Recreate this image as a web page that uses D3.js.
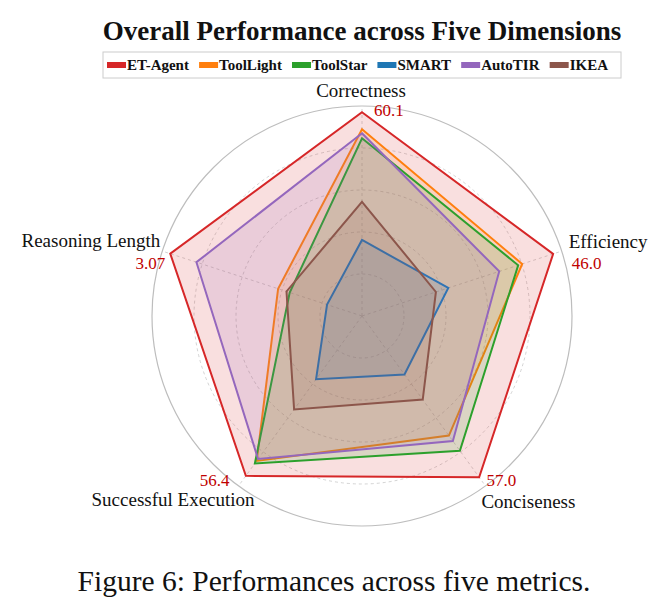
<!DOCTYPE html>
<html>
<head>
<meta charset="utf-8">
<script src="https://cdn.jsdelivr.net/npm/d3@7"></script>
<style>
  body { margin: 0; background: #fff; }
  text { font-family: "Liberation Serif", "Times New Roman", serif; }
</style>
</head>
<body>
<div id="chart"></div>
<script>
// axes of the radar, clockwise from the top
var axes = ["Correctness", "Efficiency", "Conciseness", "Successful Execution", "Reasoning Length"];
// best raw value on each axis (printed in red)
var axisMax = ["60.1", "46.0", "57.0", "56.4", "3.07"];

var models = ["ET-Agent", "ToolLight", "ToolStar", "SMART", "AutoTIR", "IKEA"];
var colors = ["#d62728", "#ff7f0e", "#2ca02c", "#1f77b4", "#9467bd", "#8c564b"];

// normalized scores (0..1) per axis, same order as axes
var etAgent   = [0.97, 0.957, 0.949, 0.941, 0.96];
var toolLight = [0.889, 0.802, 0.704, 0.853, 0.42];
var toolStar  = [0.846, 0.782, 0.793, 0.868, 0.362];
var smart     = [0.362, 0.432, 0.344, 0.372, 0.175];
var autoTir   = [0.870, 0.687, 0.736, 0.842, 0.829];
var ikea      = [0.544, 0.37, 0.492, 0.55, 0.378];

var series = [etAgent, toolLight, toolStar, smart, autoTir, ikea];
var rings = [0.2, 0.4, 0.6, 0.8, 1.0];

var width = 668, height = 613;
var cx = 362, cy = 316, R = 210;

var svg = d3.select("#chart").append("svg")
	.attr("width", width)
	.attr("height", height);

var r = d3.scaleLinear().domain([0, 1]).range([0, R]);
var angle = d3.scaleLinear().domain([0, axes.length]).range([0, 2 * Math.PI]);

var g = svg.append("g").attr("transform", "translate(" + cx + "," + cy + ")");

// grid rings
g.selectAll(".ring")
	.data(rings)
	.enter().append("circle")
	.attr("class", "ring")
	.attr("r", function(d) { return r(d); })
	.attr("fill", "none")
	.attr("stroke", function(d) { return d === 1 ? "#bdbdbd" : "#c8c8c8"; })
	.attr("stroke-width", function(d) { return d === 1 ? 1.2 : 0.8; })
	.attr("stroke-dasharray", function(d) { return d === 1 ? null : "3,3"; });

// spokes
g.selectAll(".spoke")
	.data(axes)
	.enter().append("line")
	.attr("class", "spoke")
	.attr("x1", 0).attr("y1", 0)
	.attr("x2", function(d, i) { return r(1) * Math.sin(angle(i)); })
	.attr("y2", function(d, i) { return -r(1) * Math.cos(angle(i)); })
	.attr("stroke", "#c8c8c8")
	.attr("stroke-width", 0.8)
	.attr("stroke-dasharray", "3,3");

var radar = d3.lineRadial()
	.angle(function(d, i) { return angle(i); })
	.radius(function(d) { return r(d); })
	.curve(d3.curveLinearClosed);

var shapes = g.selectAll(".model")
	.data(series)
	.enter().append("g")
	.attr("class", "model");

shapes.append("path")
	.attr("d", radar)
	.attr("fill", function(d, i) { return colors[i]; })
	.attr("fill-opacity", 0.15)
	.attr("stroke", "none");

shapes.append("path")
	.attr("d", radar)
	.attr("fill", "none")
	.attr("stroke", function(d, i) { return colors[i]; })
	.attr("stroke-width", 2)
	.attr("stroke-linejoin", "miter");

// axis label placement relative to the end of each spoke
var labelPos = [
	{ dx: -1, dy: -9, anchor: "middle" },
	{ dx: 7, dy: -3, anchor: "start" },
	{ dx: -4, dy: 22, anchor: "start" },
	{ dx: 16, dy: 20, anchor: "end" },
	{ dx: -2, dy: -4, anchor: "end" }
];
var valuePos = [
	{ dx: 12, dy: 10, anchor: "start" },
	{ dx: 10, dy: 18, anchor: "start" },
	{ dx: 1, dy: 0, anchor: "start" },
	{ dx: -9, dy: 0, anchor: "end" },
	{ dx: 3, dy: 18, anchor: "end" }
];

function endX(i) { return r(1) * Math.sin(angle(i)); }
function endY(i) { return -r(1) * Math.cos(angle(i)); }

g.selectAll(".axis-label")
	.data(axes)
	.enter().append("text")
	.attr("class", "axis-label")
	.attr("x", function(d, i) { return endX(i) + labelPos[i].dx; })
	.attr("y", function(d, i) { return endY(i) + labelPos[i].dy; })
	.attr("text-anchor", function(d, i) { return labelPos[i].anchor; })
	.attr("font-size", 19)
	.attr("fill", "#111")
	.text(function(d) { return d; });

g.selectAll(".axis-max")
	.data(axisMax)
	.enter().append("text")
	.attr("class", "axis-max")
	.attr("x", function(d, i) { return endX(i) + valuePos[i].dx; })
	.attr("y", function(d, i) { return endY(i) + valuePos[i].dy; })
	.attr("text-anchor", function(d, i) { return valuePos[i].anchor; })
	.attr("font-size", 17)
	.attr("fill", "#c00000")
	.text(function(d) { return d; });

// title
svg.append("text")
	.attr("x", 362)
	.attr("y", 40)
	.attr("text-anchor", "middle")
	.attr("font-size", 27)
	.attr("font-weight", "bold")
	.attr("fill", "#111")
	.text("Overall Performance across Five Dimensions");

// legend
var legend = svg.append("g").attr("class", "legend");
legend.append("rect")
	.attr("x", 103).attr("y", 52)
	.attr("width", 518).attr("height", 26)
	.attr("fill", "#fff")
	.attr("stroke", "#ccc")
	.attr("stroke-width", 1);

// measure labels first, then spread the items over the box
var items = models.map(function(m, i) {
	var t = legend.append("text")
		.attr("y", 70)
		.attr("font-size", 15)
		.attr("font-weight", "bold")
		.attr("fill", "#111")
		.text(m);
	return { text: t, w: t.node().getComputedTextLength(), color: colors[i] };
});
var patchW = 19;
var used = d3.sum(items, function(d) { return patchW + 1 + d.w; });
var gap = (608 - 107 - used) / (items.length - 1);
var lx = 107;
items.forEach(function(d) {
	legend.append("rect")
		.attr("x", lx).attr("y", 62)
		.attr("width", patchW).attr("height", 6)
		.attr("fill", d.color);
	d.text.attr("x", lx + patchW + 1);
	lx += patchW + 1 + d.w + gap;
});

// caption
svg.append("text")
	.attr("x", 334)
	.attr("y", 591)
	.attr("text-anchor", "middle")
	.attr("font-size", 29.5)
	.attr("fill", "#111")
	.text("Figure 6: Performances across five metrics.");
</script>
</body>
</html>
